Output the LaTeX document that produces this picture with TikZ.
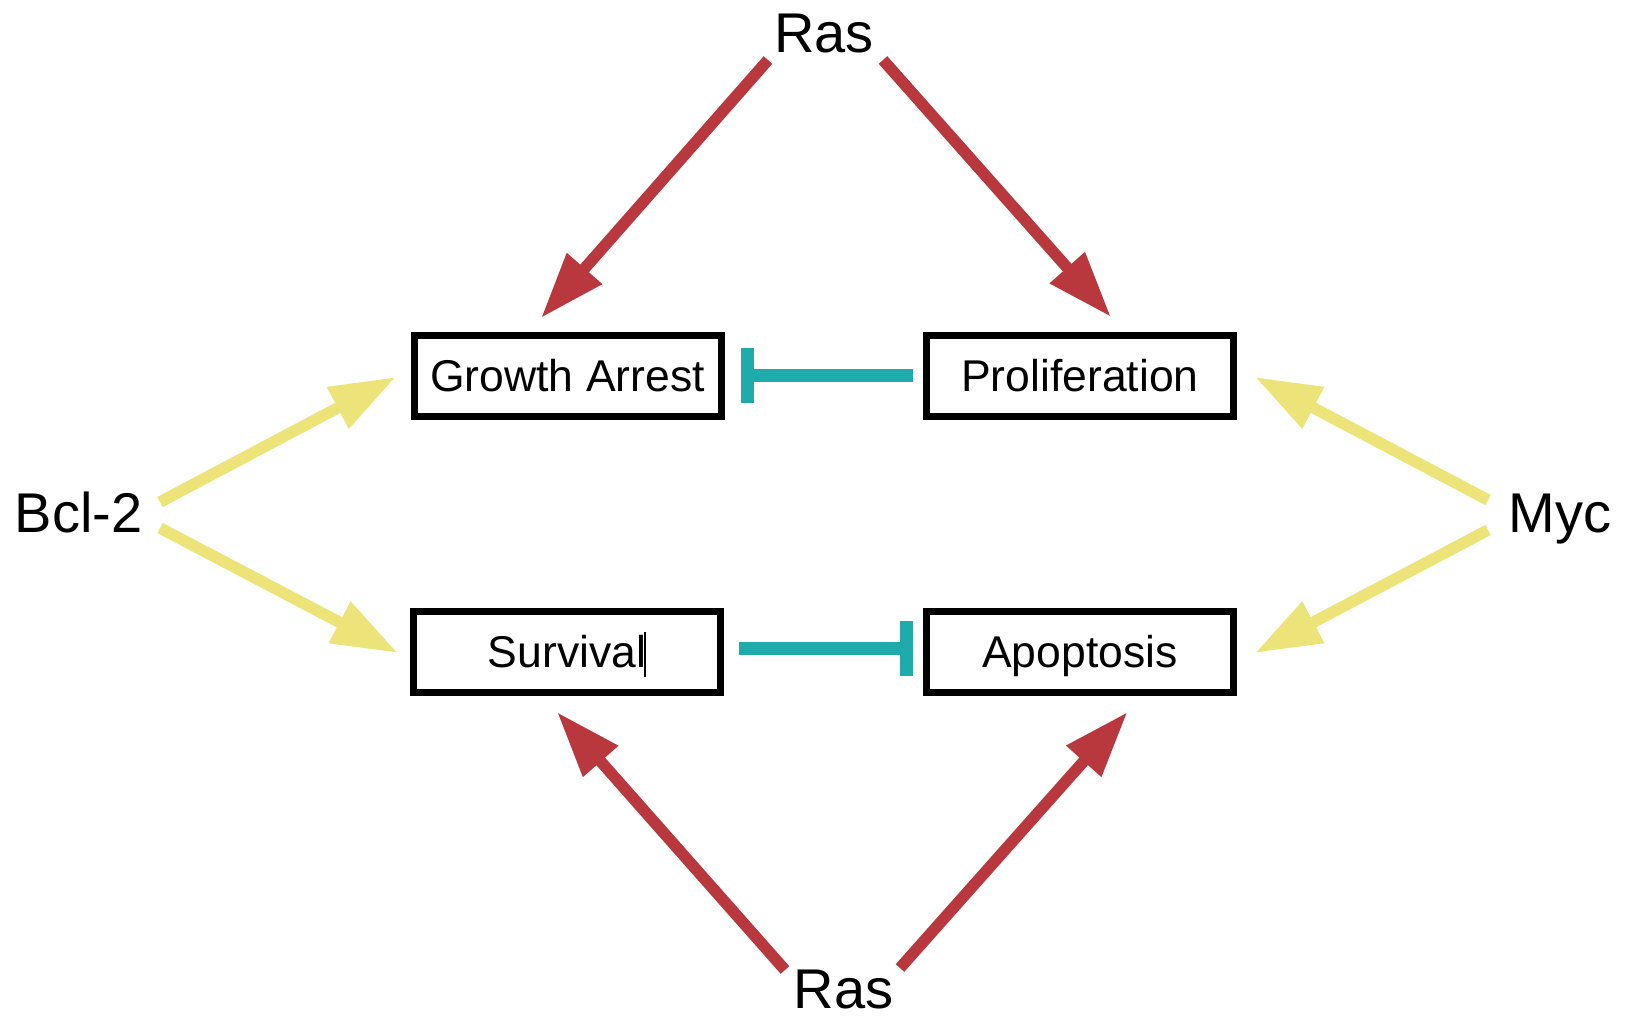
\documentclass[tikz,border=0pt]{standalone}
\usepackage{fontspec}
\setmainfont{Liberation Sans}
\usetikzlibrary{arrows.meta,calc}

\definecolor{rasred}{HTML}{B8383D}
\definecolor{paleyellow}{HTML}{ECE478}
\definecolor{inhibteal}{HTML}{1FAAAC}

\tikzset{
  statebox/.style={draw=black, line width=7pt, minimum width=307pt, minimum height=81pt,
    inner sep=0pt, text height=31.5pt, text depth=0pt,
    font=\fontsize{44.5}{52}\selectfont},
  regulator/.style={inner sep=0pt, anchor=base, font=\fontsize{56}{66}\selectfont},
  activate/.style={line width=11.5pt, -{Triangle[length=66pt,width=44pt]}},
  rasarrow/.style={activate, draw=rasred, fill=rasred},
  yelarrow/.style={activate, draw=paleyellow, fill=paleyellow},
  inhibit/.style={draw=inhibteal, line width=13pt, -{Bar[width=55pt]}}
}

\begin{document}
\begin{tikzpicture}[x=1pt, y=-1pt]
  \useasboundingbox (0,0) rectangle (1631,1018);

  % outcome boxes
  \node[statebox] (ga)   at (567.5,376) {Growth Arrest};
  \node[statebox] (prol) at (1080,376)  {Proliferation};
  \node[statebox] (surv) at (567,652)   {Survival};
  \node[statebox] (apop) at (1080,651.5){Apoptosis};

  % text cursor left after "Survival"
  \draw[line width=1.5pt] ($(surv.center)+(78,-20)$) -- ($(surv.center)+(78,25)$);

  % regulators
  \node[regulator] (rasT) at (824,52)    {Ras};
  \node[regulator] (rasB) at (843.5,1008){Ras};
  \node[regulator] (bcl)  at (78.5,532)  {Bcl-2};
  \node[regulator] (myc)  at (1560,532)  {Myc};

  % Ras activations
  \draw[rasarrow] ($(rasT.base)+(-56,8)$)   -- ($(ga.north)+(-26.5,-14)$);
  \draw[rasarrow] ($(rasT.base)+(59,8)$)    -- ($(prol.north)+(31,-15)$);
  \draw[rasarrow] ($(rasB.base)+(-58.5,-38)$) -- ($(surv.south)+(-10,16)$);
  \draw[rasarrow] ($(rasB.base)+(56.5,-40)$)  -- ($(apop.south)+(47.5,16.5)$);

  % Bcl-2 and Myc activations
  \draw[yelarrow] ($(bcl.base)+(81.5,-30)$) -- ($(ga.west)+(-14.5,1)$);
  \draw[yelarrow] ($(bcl.base)+(81.5,-4)$)  -- ($(surv.west)+(-12,1)$);
  \draw[yelarrow] ($(myc.base)+(-72,-32)$)  -- ($(prol.east)+(18,1)$);
  \draw[yelarrow] ($(myc.base)+(-72,-2)$)   -- ($(apop.east)+(18,1.5)$);

  % inhibitions
  \draw[inhibit] ($(prol.west)+(-10,-0.5)$) -- ($(ga.east)+(16,-0.5)$);
  \draw[inhibit] ($(surv.east)+(15,-3.5)$)  -- ($(apop.west)+(-10,-3)$);
\end{tikzpicture}
\end{document}
